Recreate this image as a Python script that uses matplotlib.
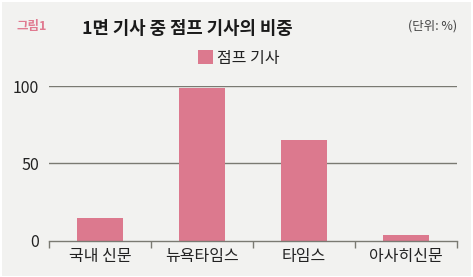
import matplotlib.pyplot as plt
import numpy as np
from matplotlib.patches import Rectangle

plt.rcParams['font.family'] = ['Noto Sans CJK KR', 'DejaVu Sans']

categories = ['국내 신문', '뉴욕타임스', '타임스', '아사히신문']
values = [15, 99, 65, 4]
yticks = [0, 50, 100]

bg = '#f2f2f0'
bar_color = '#dc798e'

fig = plt.figure(figsize=(4.73, 2.77), dpi=100, facecolor='white')
fig.patches.append(Rectangle((0.004, 0.004), 0.992, 0.99, transform=fig.transFigure,
                             facecolor=bg, edgecolor='none', zorder=-10))

ax = fig.add_axes([0.1036, 0.130, 0.8625, 0.5595])
ax.set_facecolor('none')
x = np.arange(len(categories))
ax.bar(x, values, width=0.46, color=bar_color, zorder=3, label='점프 기사')

ax.set_xlim(-0.5, len(categories) - 0.5)
ax.set_ylim(0, 100)
ax.set_yticks(yticks)
ax.set_yticklabels([str(v) for v in yticks], fontsize=11.5, color='#222222')
ax.tick_params(axis='y', length=0, pad=7)
for v in yticks[1:]:
    ax.axhline(v, color='#7a7a72', lw=1, zorder=1)

ax.set_xticks(x)
ax.set_xticklabels(categories, fontsize=11.5, color='#222222')
ax.tick_params(axis='x', which='major', length=0, pad=5)
ax.set_xticks(np.arange(-0.5, len(categories)), minor=True)
ax.tick_params(axis='x', which='minor', length=5, width=1, color='#7a7a72')

for s in ['top', 'right', 'left']:
    ax.spines[s].set_visible(False)
ax.spines['bottom'].set_color('#7a7a72')
ax.spines['bottom'].set_linewidth(1)
ax.spines['bottom'].set_zorder(4)

leg = fig.legend(loc='center', bbox_to_anchor=(0.505, 0.79), frameon=False, fontsize=11.5,
                 handlelength=0.95, handleheight=0.95, handletextpad=0.25)
for t in leg.get_texts():
    t.set_color('#222222')

fig.text(0.034, 0.905, '그림1', fontsize=9, color='#e07a90', fontweight='bold', va='center')
fig.text(0.173, 0.895, '1면 기사 중 점프 기사의 비중', fontsize=12.8, fontweight='bold',
         color='#1a1a1a', va='center')
fig.text(0.966, 0.905, '(단위: %)', fontsize=9, color='#444444', va='center', ha='right')

fig.savefig('out.png', dpi=100, facecolor='white')
